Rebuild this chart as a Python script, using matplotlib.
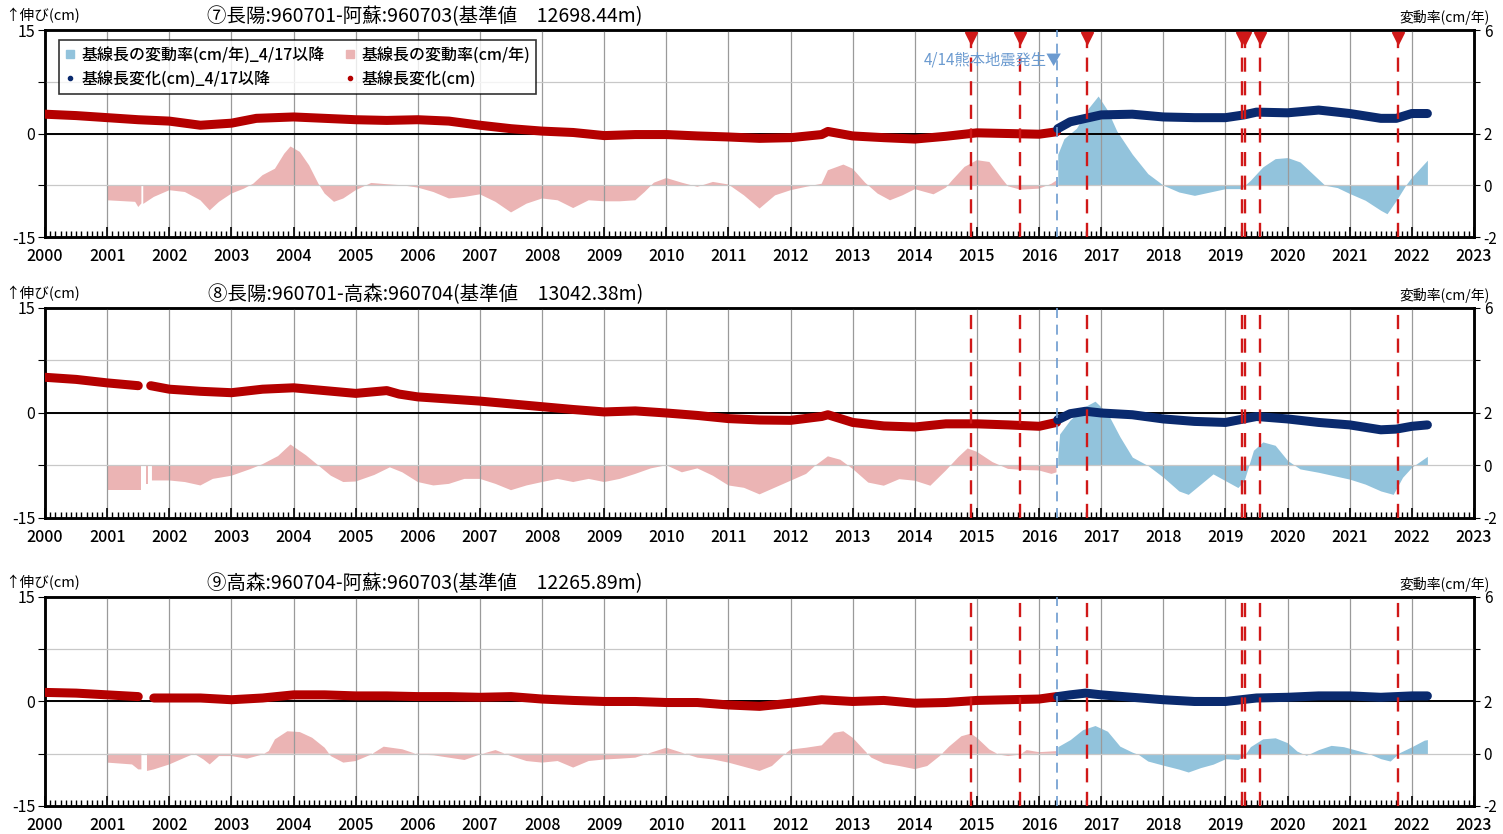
import numpy as np
import matplotlib.pyplot as plt
from matplotlib.lines import Line2D
from matplotlib.ticker import MultipleLocator

plt.rcParams['font.family'] = ['Noto Sans CJK JP', 'DejaVu Sans']

# --- data ------------------------------------------------------------------
QUAKE = 2016.29          # 2016/4/14 熊本地震
events = [2014.90, 2015.70, 2016.77, 2019.26, 2019.31, 2019.55, 2021.78]
years = list(range(2000, 2024))

titles = ["⑦長陽:960701-阿蘇:960703(基準値　12698.44m)",
          "⑧長陽:960701-高森:960704(基準値　13042.38m)",
          "⑨高森:960704-阿蘇:960703(基準値　12265.89m)"]

# baseline change (cm), before / after 4/17
base7_t = [2000.0, 2000.5, 2001.0, 2001.5, 2002.0, 2002.5, 2003.0, 2003.4, 2004.0, 2004.5,
           2005.0, 2005.5, 2006.0, 2006.5, 2007.0, 2007.5, 2008.0, 2008.5, 2009.0, 2009.5,
           2010.0, 2010.5, 2011.0, 2011.5, 2012.0, 2012.5, 2012.6, 2013.0, 2013.5, 2014.0,
           2014.5, 2015.0, 2015.5, 2016.0, 2016.28]
base7_v = [2.8, 2.6, 2.3, 2.0, 1.8, 1.2, 1.5, 2.2, 2.4, 2.2,
           2.0, 1.9, 2.0, 1.8, 1.2, 0.7, 0.35, 0.15, -0.3, -0.15,
           -0.15, -0.35, -0.5, -0.7, -0.6, -0.15, 0.3, -0.35, -0.6, -0.8,
           -0.4, 0.1, 0.0, -0.1, 0.25]
post7_t = [2016.3, 2016.5, 2016.75, 2017.0, 2017.5, 2018.0, 2018.5, 2019.0, 2019.3,
           2019.5, 2020.0, 2020.5, 2021.0, 2021.5, 2021.75, 2022.0, 2022.25]
post7_v = [0.7, 1.7, 2.2, 2.7, 2.8, 2.4, 2.3, 2.3, 2.7,
           3.1, 3.0, 3.4, 2.9, 2.2, 2.2, 2.9, 2.9]

base8_t = [2000.0, 2000.5, 2001.0, 2001.5, 2001.58, 2001.7, 2002.0, 2002.5, 2003.0, 2003.5,
           2004.0, 2004.5, 2005.0, 2005.5, 2005.7, 2006.0, 2006.5, 2007.0, 2007.5, 2008.0,
           2008.5, 2009.0, 2009.5, 2010.0, 2010.5, 2011.0, 2011.5, 2012.0, 2012.5, 2012.6,
           2013.0, 2013.5, 2014.0, 2014.5, 2015.0, 2015.5, 2016.0, 2016.28]
base8_v = [5.1, 4.8, 4.3, 3.9, np.nan, 3.9, 3.4, 3.1, 2.9, 3.4,
           3.6, 3.2, 2.8, 3.2, 2.7, 2.3, 2.0, 1.7, 1.3, 0.9,
           0.5, 0.15, 0.3, 0.0, -0.35, -0.8, -1.0, -1.05, -0.5, -0.25,
           -1.35, -1.85, -2.0, -1.55, -1.55, -1.7, -1.9, -1.35]
post8_t = [2016.3, 2016.5, 2016.75, 2017.0, 2017.5, 2018.0, 2018.5, 2019.0, 2019.5,
           2020.0, 2020.5, 2021.0, 2021.5, 2021.75, 2022.0, 2022.25]
post8_v = [-0.97, -0.1, 0.25, 0.0, -0.25, -0.85, -1.2, -1.35, -0.5,
           -0.85, -1.35, -1.7, -2.4, -2.3, -1.9, -1.7]

base9_t = [2000.0, 2000.5, 2001.0, 2001.5, 2001.58, 2001.75, 2002.0, 2002.5, 2003.0, 2003.5,
           2004.0, 2004.5, 2005.0, 2005.5, 2006.0, 2006.5, 2007.0, 2007.5, 2008.0, 2008.5,
           2009.0, 2009.5, 2010.0, 2010.5, 2011.0, 2011.5, 2012.0, 2012.5, 2013.0, 2013.5,
           2014.0, 2014.5, 2015.0, 2015.5, 2016.0, 2016.28]
base9_v = [1.3, 1.2, 0.95, 0.7, np.nan, 0.5, 0.5, 0.5, 0.25, 0.5,
           0.95, 0.95, 0.8, 0.8, 0.7, 0.7, 0.6, 0.7, 0.35, 0.15,
           0.0, 0.0, -0.15, -0.15, -0.5, -0.7, -0.25, 0.25, 0.0, 0.15,
           -0.25, -0.15, 0.15, 0.25, 0.35, 0.7]
post9_t = [2016.3, 2016.5, 2016.75, 2017.0, 2017.5, 2018.0, 2018.5, 2019.0, 2019.5,
           2020.0, 2020.5, 2021.0, 2021.5, 2022.0, 2022.25]
post9_v = [0.7, 0.95, 1.2, 0.95, 0.6, 0.25, 0.0, 0.0, 0.5,
           0.6, 0.8, 0.8, 0.6, 0.8, 0.8]

# rate of change (cm/yr), before / after 4/17
rate7_t = [2001.0, 2001.3, 2001.45, 2001.5, 2001.55, 2001.56, 2001.58, 2001.75, 2002.0, 2002.25,
           2002.5, 2002.65, 2002.8, 2003.0, 2003.2, 2003.35, 2003.5, 2003.7, 2003.85, 2003.95,
           2004.1, 2004.25, 2004.4, 2004.5, 2004.65, 2004.8, 2005.0, 2005.25, 2005.5, 2005.75,
           2006.0, 2006.25, 2006.5, 2006.75, 2007.0, 2007.25, 2007.5, 2007.75, 2008.0, 2008.25,
           2008.5, 2008.75, 2009.0, 2009.25, 2009.5, 2009.65, 2009.8, 2010.0, 2010.25, 2010.5,
           2010.75, 2011.0, 2011.25, 2011.5, 2011.75, 2012.0, 2012.25, 2012.5, 2012.6, 2012.85,
           2013.0, 2013.2, 2013.4, 2013.6, 2013.8, 2014.0, 2014.3, 2014.5, 2014.6, 2014.8,
           2015.0, 2015.2, 2015.4, 2015.5, 2015.7, 2016.0, 2016.2, 2016.28]
rate7_v = [-0.58, -0.62, -0.64, -0.84, -0.7, np.nan, -0.72, -0.45, -0.19, -0.26,
           -0.58, -0.97, -0.64, -0.32, -0.13, 0.06, 0.39, 0.64, 1.22, 1.5,
           1.29, 0.77, 0.06, -0.32, -0.64, -0.51, -0.19, 0.09, 0.04, 0.0,
           -0.09, -0.26, -0.51, -0.45, -0.35, -0.64, -1.05, -0.71, -0.51, -0.58,
           -0.88, -0.58, -0.62, -0.62, -0.58, -0.26, 0.1, 0.28, 0.1, -0.06,
           0.13, 0.03, -0.39, -0.9, -0.39, -0.19, -0.06, 0.06, 0.58, 0.8,
           0.64, 0.1, -0.32, -0.58, -0.39, -0.15, -0.35, -0.09, 0.19, 0.71,
           0.97, 0.9, 0.26, -0.04, -0.17, -0.13, 0.06, 0.19]
rpost7_t = [2016.3, 2016.4, 2016.6, 2016.8, 2016.95, 2017.1, 2017.25, 2017.5, 2017.75, 2018.0,
            2018.25, 2018.5, 2018.75, 2019.0, 2019.25, 2019.4, 2019.6, 2019.8, 2020.0, 2020.2,
            2020.4, 2020.6, 2020.8, 2021.0, 2021.25, 2021.5, 2021.6, 2021.75, 2021.9, 2022.0,
            2022.15, 2022.25]
rpost7_v = [1.2, 1.8, 2.2, 3.0, 3.45, 2.9, 2.1, 1.2, 0.45, 0.0,
            -0.26, -0.39, -0.26, -0.13, -0.13, 0.19, 0.71, 1.03, 1.07, 0.9,
            0.45, 0.0, -0.09, -0.32, -0.58, -0.97, -1.1, -0.58, 0.0, 0.32,
            0.71, 0.97]

rate8_t = [2001.0, 2001.5, 2001.55, 2001.56, 2001.62, 2001.66, 2001.67, 2001.72, 2002.0, 2002.25,
           2002.5, 2002.7, 2003.0, 2003.3, 2003.5, 2003.75, 2003.95, 2004.2, 2004.4, 2004.6,
           2004.8, 2005.0, 2005.3, 2005.55, 2005.75, 2006.0, 2006.25, 2006.5, 2006.75, 2007.0,
           2007.25, 2007.5, 2007.75, 2008.0, 2008.25, 2008.5, 2008.75, 2009.0, 2009.25, 2009.5,
           2009.75, 2010.0, 2010.25, 2010.5, 2010.75, 2011.0, 2011.25, 2011.5, 2011.75, 2012.0,
           2012.25, 2012.4, 2012.6, 2012.8, 2013.0, 2013.25, 2013.5, 2013.75, 2014.0, 2014.25,
           2014.5, 2014.7, 2014.85, 2015.0, 2015.25, 2015.5, 2015.75, 2016.0, 2016.2, 2016.28]
rate8_v = [-0.94, -0.94, -0.94, np.nan, -0.7, -0.7, np.nan, -0.57, -0.57, -0.63,
           -0.76, -0.51, -0.39, -0.14, 0.05, 0.36, 0.8, 0.39, 0.0, -0.39,
           -0.63, -0.61, -0.36, -0.07, -0.26, -0.63, -0.76, -0.7, -0.51, -0.51,
           -0.7, -0.94, -0.76, -0.63, -0.51, -0.63, -0.51, -0.63, -0.51, -0.32,
           -0.11, 0.01, -0.26, -0.11, -0.39, -0.76, -0.85, -1.1, -0.84, -0.58,
           -0.32, 0.0, 0.35, 0.22, -0.13, -0.65, -0.77, -0.52, -0.58, -0.77,
           -0.19, 0.32, 0.65, 0.52, 0.13, -0.13, -0.17, -0.19, -0.32, -0.26]
rpost8_t = [2016.3, 2016.33, 2016.5, 2016.75, 2016.9, 2017.1, 2017.3, 2017.5, 2017.75, 2018.0,
            2018.25, 2018.4, 2018.6, 2018.8, 2019.0, 2019.2, 2019.3, 2019.45, 2019.6, 2019.8,
            2020.0, 2020.2, 2020.5, 2020.75, 2021.0, 2021.25, 2021.5, 2021.7, 2021.85, 2022.0,
            2022.25]
rpost8_v = [0.32, 1.2, 1.74, 2.26, 2.45, 2.0, 1.1, 0.32, 0.0, -0.45,
            -0.97, -1.1, -0.71, -0.32, -0.58, -0.84, -0.58, 0.58, 0.9, 0.77,
            0.19, -0.13, -0.26, -0.39, -0.52, -0.71, -0.97, -1.1, -0.45, -0.06,
            0.35]

rate9_t = [2001.0, 2001.4, 2001.5, 2001.55, 2001.56, 2001.64, 2001.75, 2002.0, 2002.25, 2002.4,
           2002.55, 2002.65, 2002.8, 2003.0, 2003.25, 2003.5, 2003.6, 2003.7, 2003.9, 2004.1,
           2004.3, 2004.5, 2004.6, 2004.8, 2005.0, 2005.25, 2005.45, 2005.75, 2006.0, 2006.25,
           2006.5, 2006.75, 2007.0, 2007.25, 2007.5, 2007.75, 2008.0, 2008.25, 2008.5, 2008.75,
           2009.0, 2009.25, 2009.5, 2009.75, 2010.0, 2010.25, 2010.5, 2010.75, 2011.0, 2011.25,
           2011.5, 2011.7, 2011.9, 2012.0, 2012.25, 2012.5, 2012.7, 2012.85, 2013.0, 2013.2,
           2013.3, 2013.5, 2013.75, 2014.0, 2014.2, 2014.4, 2014.55, 2014.75, 2014.9, 2015.0,
           2015.2, 2015.35, 2015.5, 2015.7, 2015.8, 2016.0, 2016.28]
rate9_v = [-0.34, -0.41, -0.6, -0.6, np.nan, -0.66, -0.6, -0.41, -0.15, 0.0,
           -0.22, -0.41, -0.09, -0.09, -0.19, -0.03, 0.1, 0.55, 0.86, 0.83,
           0.61, 0.23, -0.09, -0.34, -0.28, -0.03, 0.27, 0.17, -0.03, -0.06,
           -0.15, -0.24, -0.03, 0.14, -0.09, -0.28, -0.34, -0.28, -0.53, -0.28,
           -0.22, -0.19, -0.15, 0.04, 0.23, 0.04, -0.15, -0.22, -0.34, -0.5,
           -0.66, -0.47, -0.03, 0.16, 0.23, 0.32, 0.8, 0.86, 0.61, 0.1,
           -0.15, -0.37, -0.47, -0.59, -0.47, -0.09, 0.27, 0.67, 0.77, 0.61,
           0.16, -0.03, -0.09, -0.03, 0.14, 0.06, 0.1]
rpost9_t = [2016.3, 2016.5, 2016.7, 2016.9, 2017.1, 2017.3, 2017.5, 2017.6, 2017.75, 2018.0,
            2018.25, 2018.4, 2018.6, 2018.8, 2019.0, 2019.2, 2019.3, 2019.4, 2019.6, 2019.8,
            2020.0, 2020.15, 2020.3, 2020.5, 2020.7, 2020.9, 2021.1, 2021.3, 2021.5, 2021.65,
            2021.8, 2022.0, 2022.2, 2022.25]
rpost9_v = [0.27, 0.54, 0.92, 1.08, 0.86, 0.29, 0.06, -0.03, -0.28, -0.44,
            -0.59, -0.7, -0.53, -0.4, -0.19, -0.22, -0.09, 0.27, 0.57, 0.61,
            0.42, 0.1, -0.06, 0.16, 0.32, 0.27, 0.14, 0.01, -0.19, -0.28,
            0.04, 0.27, 0.52, 0.54]

panels = [
    (titles[0], base7_t, base7_v, post7_t, post7_v, rate7_t, rate7_v, rpost7_t, rpost7_v),
    (titles[1], base8_t, base8_v, post8_t, post8_v, rate8_t, rate8_v, rpost8_t, rpost8_v),
    (titles[2], base9_t, base9_v, post9_t, post9_v, rate9_t, rate9_v, rpost9_t, rpost9_v),
]

# colours
RED = "#B40000"
NAVY = "#0A2A6E"
PINK = "#EBB4B4"
LBLUE = "#92C3DC"
EVT = "#D01818"
QBLUE = "#6C9BD0"

fig = plt.figure(figsize=(15.03, 8.34), dpi=100)
boxes = [(0.030, 0.7158, 0.9507, 0.2482),
         (0.030, 0.3789, 0.9507, 0.2518),
         (0.030, 0.0336, 0.9507, 0.2506)]

for i, (title, bt, bv, pt, pv, rt, rv, qt, qv) in enumerate(panels):
    ax = fig.add_axes(boxes[i])
    ax2 = ax.twinx()
    ax.set_zorder(ax2.get_zorder() + 1)
    ax.patch.set_visible(False)

    # rate of change (right axis)
    ax2.fill_between(rt, rv, 0, color=PINK, lw=0)
    ax2.fill_between(qt, qv, 0, color=LBLUE, lw=0)
    ax2.set_ylim(-2, 6)
    ax2.set_yticks([-2, 0, 2, 4, 6])
    ax2.set_yticklabels(['-2', '0', '2', '', '6'])

    # baseline change (left axis)
    ax.plot(bt, bv, color=RED, lw=6.5, solid_capstyle='round', solid_joinstyle='round', zorder=4)
    ax.plot(pt, pv, color=NAVY, lw=6.5, solid_capstyle='round', solid_joinstyle='round', zorder=4)
    ax.axhline(0, color='black', lw=1.4, zorder=3)

    ax.set_xlim(years[0], years[-1])
    ax.set_ylim(-15, 15)
    ax.set_yticks([-15, -7.5, 0, 7.5, 15])
    ax.set_yticklabels(['-15', '', '0', '', '15'])
    ax.set_xticks(years)
    ax.set_xticklabels([str(y) for y in years])
    ax.xaxis.set_minor_locator(MultipleLocator(1 / 12))
    ax.tick_params(axis='x', which='major', direction='in', length=7, width=1.2, labelsize=11.5, pad=8)
    ax.tick_params(axis='x', which='minor', direction='in', length=4, width=1.0)
    ax.tick_params(axis='y', direction='out', length=5, labelsize=11.5, pad=2)
    ax2.tick_params(axis='y', direction='out', length=4, labelsize=11, pad=3)
    for lab in ax.get_xticklabels():
        lab.set_fontweight('medium')
    ax.grid(axis='x', which='major', color='#9a9a9a', lw=0.9)
    ax.grid(axis='y', which='major', color='#c8c8c8', lw=0.9)
    for sp in list(ax.spines.values()) + list(ax2.spines.values()):
        sp.set_linewidth(1.8)

    # event lines
    for e in events:
        ax.axvline(e, color=EVT, lw=1.7, ls=(0, (6, 4)), zorder=6)
    ax.axvline(QUAKE, color=QBLUE, lw=1.2, ls=(0, (6, 4)), zorder=6)

    # texts
    ax.text(-0.028, 1.07, "↑伸び(cm)", transform=ax.transAxes, ha='left', va='center', fontsize=10.5)
    ax.text(0.266, 1.065, title, transform=ax.transAxes, ha='center', va='center', fontsize=14)
    ax.text(1.011, 1.06, "変動率(cm/年)", transform=ax.transAxes, ha='right', va='center', fontsize=10)

    if i == 0:
        ax.plot(events, [0.962] * len(events), 'v', color=EVT, ms=9,
                transform=ax.get_xaxis_transform(), zorder=7, clip_on=False)
        ax.text(QUAKE + 0.08, 0.855, "4/14熊本地震発生▼", transform=ax.get_xaxis_transform(),
                ha='right', va='center', color=QBLUE, fontsize=11, zorder=7)
        handles = [Line2D([], [], marker='s', ls='', color=LBLUE, ms=6),
                   Line2D([], [], marker='o', ls='', color=NAVY, ms=3),
                   Line2D([], [], marker='s', ls='', color=PINK, ms=6),
                   Line2D([], [], marker='o', ls='', color=RED, ms=3)]
        labels = ["基線長の変動率(cm/年)_4/17以降", "基線長変化(cm)_4/17以降",
                  "基線長の変動率(cm/年)", "基線長変化(cm)"]
        leg = ax.legend(handles, labels, ncol=2, loc='upper left', bbox_to_anchor=(0.004, 0.99),
                        prop={'size': 11.5, 'weight': 'medium'}, frameon=True, fancybox=False,
                        edgecolor='black', handlelength=0.6, handletextpad=0.4,
                        columnspacing=1.3, borderpad=0.4, labelspacing=0.45)
        leg.get_frame().set_linewidth(1.2)
        leg.set_zorder(10)

fig.savefig("out.png", dpi=100)
